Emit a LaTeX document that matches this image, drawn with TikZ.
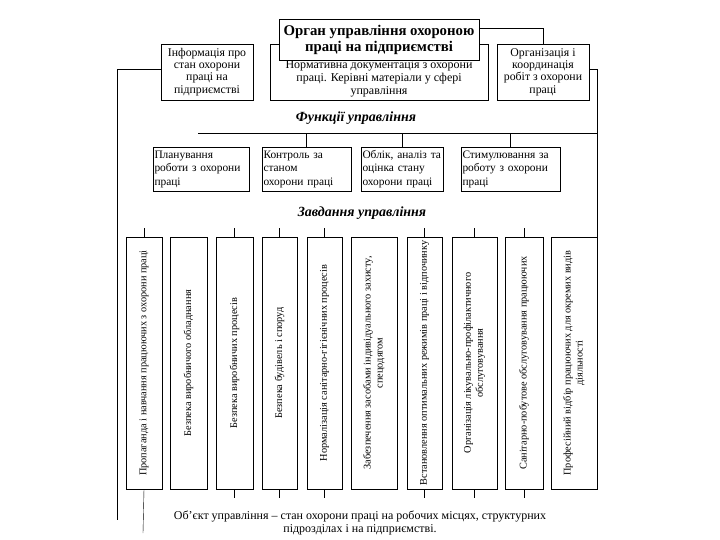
\documentclass[tikz,border=0pt]{standalone}
\usepackage{fontspec}
\setmainfont{Liberation Serif}
\begin{document}
\begin{tikzpicture}[x=1pt,y=-1pt,
    blok/.style={draw,fill=white,inner sep=1pt,align=center,font=\fontsize{11.8}{12.3}\selectfont},
    funk/.style={draw,fill=white,inner xsep=1.5pt,align=left,minimum height=42pt,font=\fontsize{11.4}{13.5}\selectfont},
    zavd/.style={draw,rotate=90,inner sep=0pt,align=center,minimum width=252pt,font=\fontsize{10.3}{12}\selectfont},
    napys/.style={font=\fontsize{14}{15}\selectfont\bfseries\itshape}]
  \useasboundingbox (0,0) rectangle (720,540);
  % верхній рівень
  \node[blok,minimum width=92pt,minimum height=56pt] (info) at (207,72) {Інформація про\\стан охорони\\праці на\\підприємстві};
  \node[blok,minimum width=218pt,minimum height=56pt] (norm) at (379,72) {};
  \node[align=center,font=\fontsize{12}{13}\selectfont] (normt) at (379,79) {Нормативна документація з охорони\\праці. Керівні матеріали у сфері\\управління};
  \node[blok,minimum width=92pt,minimum height=56pt] (koord) at (543,72) {Організація і\\координація\\робіт з охорони\\праці};
  \node[draw,fill=white,align=center,minimum width=200pt,minimum height=41pt,font=\fontsize{14.8}{15.5}\selectfont\bfseries] (organ) at (379,40) {Орган управління охороною\\праці на підприємстві};
  \draw ([yshift=-9pt]organ.north east) -| (koord.north);
  % функції
  \node[napys] (funkc) at (356,118) {Функції управління};
  \node[funk,text width=93pt] (f1) at (201,169) {Планування\\роботи з охорони\\праці};
  \node[funk,text width=86pt] (f2) at (306.5,169) {Контроль за\\станом\\охорони праці};
  \node[funk,text width=79pt] (f3) at (402,169) {Облік,~аналіз~та\\оцінка стану\\охорони праці};
  \node[funk,text width=96pt] (f4) at (510.5,169) {Стимулювання за\\роботу з охорони\\праці};
  % завдання
  \node[napys] (zavdan) at (362,213) {Завдання управління};
  \foreach \a/\b/\n/\txt in {126/162/1/{Пропаганда і навчання працюючих з охорони праці},
      170/207/2/{Безпека виробничого обладнання},
      216/253/3/{Безпека виробничих процесів},
      262/297/4/{Безпека будівель і споруд},
      307/342/5/{Нормалізація санітарно-гігієнічних процесів},
      351/397/6/{Забезпечення засобами індивідуального захисту,\\спецодягом},
      407/442/7/{Встановлення оптимальних режимів праці і відпочинку},
      452/497/8/{Організація лікувально-профілактичного\\обслуговування},
      505/543/9/{Санітарно-побутове обслуговування працюючих},
      551/597/10/{Професійний відбір працюючих для окремих видів\\діяльності}} {
    \node[zavd,minimum height={(\b-\a)*1pt}] (t\n) at ({(\a+\b)/2},363) {\txt};
  }
  \foreach \n in {1,3,4,5,7,8,9} {
    \draw (t\n.east) -- ++(0,-9);
  }
  \foreach \n in {3,4,5,7,8,9} {
    \draw (t\n.west) -- ++(0,9);
  }
  % об'єкт управління
  \node[align=center,font=\fontsize{12}{13}\selectfont] (obj) at (360,523) {Об’єкт управління – стан охорони праці на робочих місцях, структурних\\підрозділах і на підприємстві.};
  \coordinate (nkin) at (143,533);
  \draw (t1.west) -- (nkin);
  % зв'язки по краях
  \coordinate (lkin) at (117,520);
  \coordinate (fbus) at (198,133);
  \draw ([yshift=3pt]info.west) -| (lkin);
  \draw ([yshift=3pt]koord.east) -| (t10.south east);
  \draw (fbus) -- (fbus -| t10.south east);
  \foreach \n in {2,3,4} {
    \draw (f\n.north) -- (f\n.north |- fbus);
  }
\end{tikzpicture}
\end{document}
